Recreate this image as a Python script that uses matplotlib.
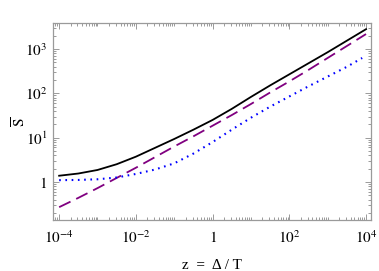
import numpy as np
import matplotlib
matplotlib.use("Agg")
import matplotlib.pyplot as plt
from matplotlib.ticker import LogLocator, NullFormatter, FixedLocator, FixedFormatter

# log10(z) sample positions
log_z = [-4.0, -3.5, -3.0, -2.5, -2.0, -1.5, -1.0, -0.5, 0.0,
         0.5, 1.0, 1.5, 2.0, 2.5, 3.0, 3.5, 4.0]

# log10(S) for each curve
black_logS = [0.14, 0.19, 0.27, 0.40, 0.57, 0.77, 0.97, 1.18, 1.40,
              1.65, 1.92, 2.18, 2.43, 2.68, 2.93, 3.19, 3.45]
purple_logS = [-0.57, -0.36, -0.14, 0.09, 0.32, 0.56, 0.80, 1.03, 1.27,
               1.51, 1.76, 2.02, 2.27, 2.53, 2.80, 3.07, 3.34]
blue_log_z = [-4.0, -3.5, -3.0, -2.5, -2.0, -1.5, -1.0, -0.5, 0.0,
              0.5, 1.0, 1.5, 2.0, 2.5, 3.0, 3.5, 3.9]
blue_logS = [0.04, 0.045, 0.06, 0.10, 0.18, 0.28, 0.42, 0.64, 0.90,
             1.18, 1.45, 1.70, 1.93, 2.16, 2.38, 2.60, 2.80]

xticks = [1e-4, 1e-2, 1, 1e2, 1e4]
xticklabels = [r'$10^{-4}$', r'$10^{-2}$', r'$1$', r'$10^{2}$', r'$10^{4}$']
yticks = [1, 1e1, 1e2, 1e3]
yticklabels = [r'$1$', r'$10^{1}$', r'$10^{2}$', r'$10^{3}$']

plt.rcParams['mathtext.fontset'] = 'stix'
plt.rcParams['font.family'] = 'Liberation Serif'

fig = plt.figure(figsize=(3.79, 2.71), dpi=100)
ax = fig.add_axes([53 / 379, 1 - 220 / 271, 318 / 379, 197 / 271])

z = 10 ** np.array(log_z)
ax.plot(z, 10 ** np.array(black_logS), color='black', lw=1.3)
ax.plot(z, 10 ** np.array(purple_logS), color='#800080', lw=1.3,
        dashes=(7, 3.5))
ax.plot(10 ** np.array(blue_log_z), 10 ** np.array(blue_logS), color='blue',
        lw=1.5, dashes=(0.8, 2.2))

ax.set_xscale('log')
ax.set_yscale('log')
ax.set_xlim(10 ** -4.16, 10 ** 4.13)
ax.set_ylim(10 ** -0.86, 10 ** 3.59)

ax.xaxis.set_major_locator(FixedLocator(xticks))
ax.xaxis.set_major_formatter(FixedFormatter(xticklabels))
ax.xaxis.set_minor_locator(LogLocator(base=10, subs=np.arange(1, 10), numticks=30))
ax.xaxis.set_minor_formatter(NullFormatter())
ax.yaxis.set_major_locator(FixedLocator(yticks))
ax.yaxis.set_major_formatter(FixedFormatter(yticklabels))
ax.yaxis.set_minor_locator(LogLocator(base=10, subs=np.arange(2, 10), numticks=30))
ax.yaxis.set_minor_formatter(NullFormatter())

gray = '#9a9a9a'
for s in ax.spines.values():
    s.set_color(gray)
    s.set_linewidth(0.9)
ax.tick_params(which='both', direction='in', top=True, right=True, color=gray,
               labelsize=11, width=0.7)
ax.tick_params(which='major', length=4)
ax.tick_params(which='minor', length=2)
ax.tick_params(axis='x', pad=7)
ax.tick_params(axis='y', pad=4)

ax.set_xlabel('z  =  Δ / T', fontsize=11, labelpad=9)
ax.set_ylabel(r'$\overline{\mathrm{S}}$', fontsize=11, labelpad=-3)

fig.savefig('out.png', dpi=100)
